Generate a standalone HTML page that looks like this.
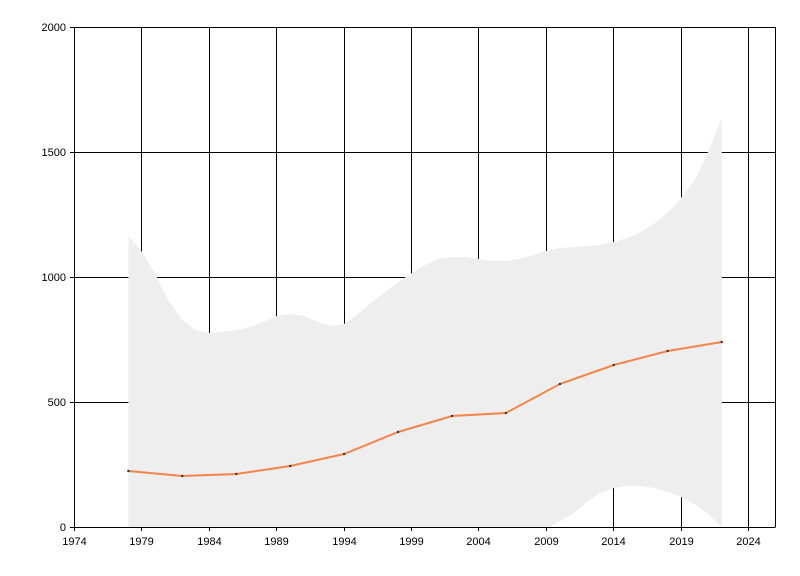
<!DOCTYPE html>
<html><head><style>body{margin:0;background:#fff}svg{display:block}text{font-family:"Liberation Sans",sans-serif;font-size:11px;fill:#000}</style></head>
<body>
<svg width="800" height="576" xmlns="http://www.w3.org/2000/svg">
<g stroke="#000" stroke-width="1">
<line x1="74.5" y1="27.5" x2="775.5" y2="27.5"/>
<line x1="74.5" y1="152.5" x2="775.5" y2="152.5"/>
<line x1="74.5" y1="277.5" x2="775.5" y2="277.5"/>
<line x1="74.5" y1="402.5" x2="775.5" y2="402.5"/>
<line x1="70" y1="27.5" x2="74.5" y2="27.5"/>
<line x1="70" y1="152.5" x2="74.5" y2="152.5"/>
<line x1="70" y1="277.5" x2="74.5" y2="277.5"/>
<line x1="70" y1="402.5" x2="74.5" y2="402.5"/>
<line x1="70" y1="527.5" x2="74.5" y2="527.5"/>
<line x1="141.5" y1="27" x2="141.5" y2="531"/>
<line x1="209.5" y1="27" x2="209.5" y2="531"/>
<line x1="276.5" y1="27" x2="276.5" y2="531"/>
<line x1="344.5" y1="27" x2="344.5" y2="531"/>
<line x1="411.5" y1="27" x2="411.5" y2="531"/>
<line x1="478.5" y1="27" x2="478.5" y2="531"/>
<line x1="546.5" y1="27" x2="546.5" y2="531"/>
<line x1="613.5" y1="27" x2="613.5" y2="531"/>
<line x1="681.5" y1="27" x2="681.5" y2="531"/>
<line x1="748.5" y1="27" x2="748.5" y2="531"/>
<line x1="775.5" y1="27" x2="775.5" y2="527"/>
</g>
<polygon fill="#eeeeee" points="128.4,236 142,252 155.4,274 168,300 182.3,320 195,330 209.3,333 222,332 236.3,330 250,327 263.2,322 277,316 290.2,314 304,316 317.2,322 331,326 344.1,324 358,314 371.1,303 385,292 398.1,282 412,273 425,265 438,259 452,257 466,257 479,259 492,261 505.9,261 519,259 532.9,255 546,251 559.9,248 573,247 586.8,246 600,245 613.8,242 627,238 640.8,232 654,224 667.7,213 681,198 694.7,180 708,152 721.7,118 721.7,527 708,514 694.7,504 681,497 667.7,492 654,488 640.8,486 627,486 613.8,488 600,493 586.8,502 573,514 559.9,521 550,527 128.4,527"/>
<g stroke="#000" stroke-width="1">
<line x1="74.5" y1="27" x2="74.5" y2="531"/>
<line x1="70" y1="527.5" x2="775.5" y2="527.5"/>
</g>
<polyline fill="none" stroke="#f5844a" stroke-width="2" points="128.4,471 182.3,476 236.3,474 290.2,466 344.1,454 398.1,432 452,416 505.9,413 559.9,384 613.8,365 667.7,351 721.7,342"/>
<g fill="#333">
<circle cx="128.4" cy="471" r="1.2"/><circle cx="182.3" cy="476" r="1.2"/><circle cx="236.3" cy="474" r="1.2"/><circle cx="290.2" cy="466" r="1.2"/><circle cx="344.1" cy="454" r="1.2"/><circle cx="398.1" cy="432" r="1.2"/><circle cx="452" cy="416" r="1.2"/><circle cx="505.9" cy="413" r="1.2"/><circle cx="559.9" cy="384" r="1.2"/><circle cx="613.8" cy="365" r="1.2"/><circle cx="667.7" cy="351" r="1.2"/><circle cx="721.7" cy="342" r="1.2"/>
</g>
<g text-anchor="end">
<text x="66" y="31">2000</text><text x="66" y="156">1500</text><text x="66" y="281">1000</text><text x="66" y="406">500</text><text x="66" y="531">0</text>
</g>
<g text-anchor="middle">
<text x="74.5" y="545">1974</text><text x="141.5" y="545">1979</text><text x="209.5" y="545">1984</text><text x="276.5" y="545">1989</text><text x="344.5" y="545">1994</text><text x="411.5" y="545">1999</text><text x="478.5" y="545">2004</text><text x="546.5" y="545">2009</text><text x="613.5" y="545">2014</text><text x="681.5" y="545">2019</text><text x="748.5" y="545">2024</text>
</g>
</svg>
</body></html>
